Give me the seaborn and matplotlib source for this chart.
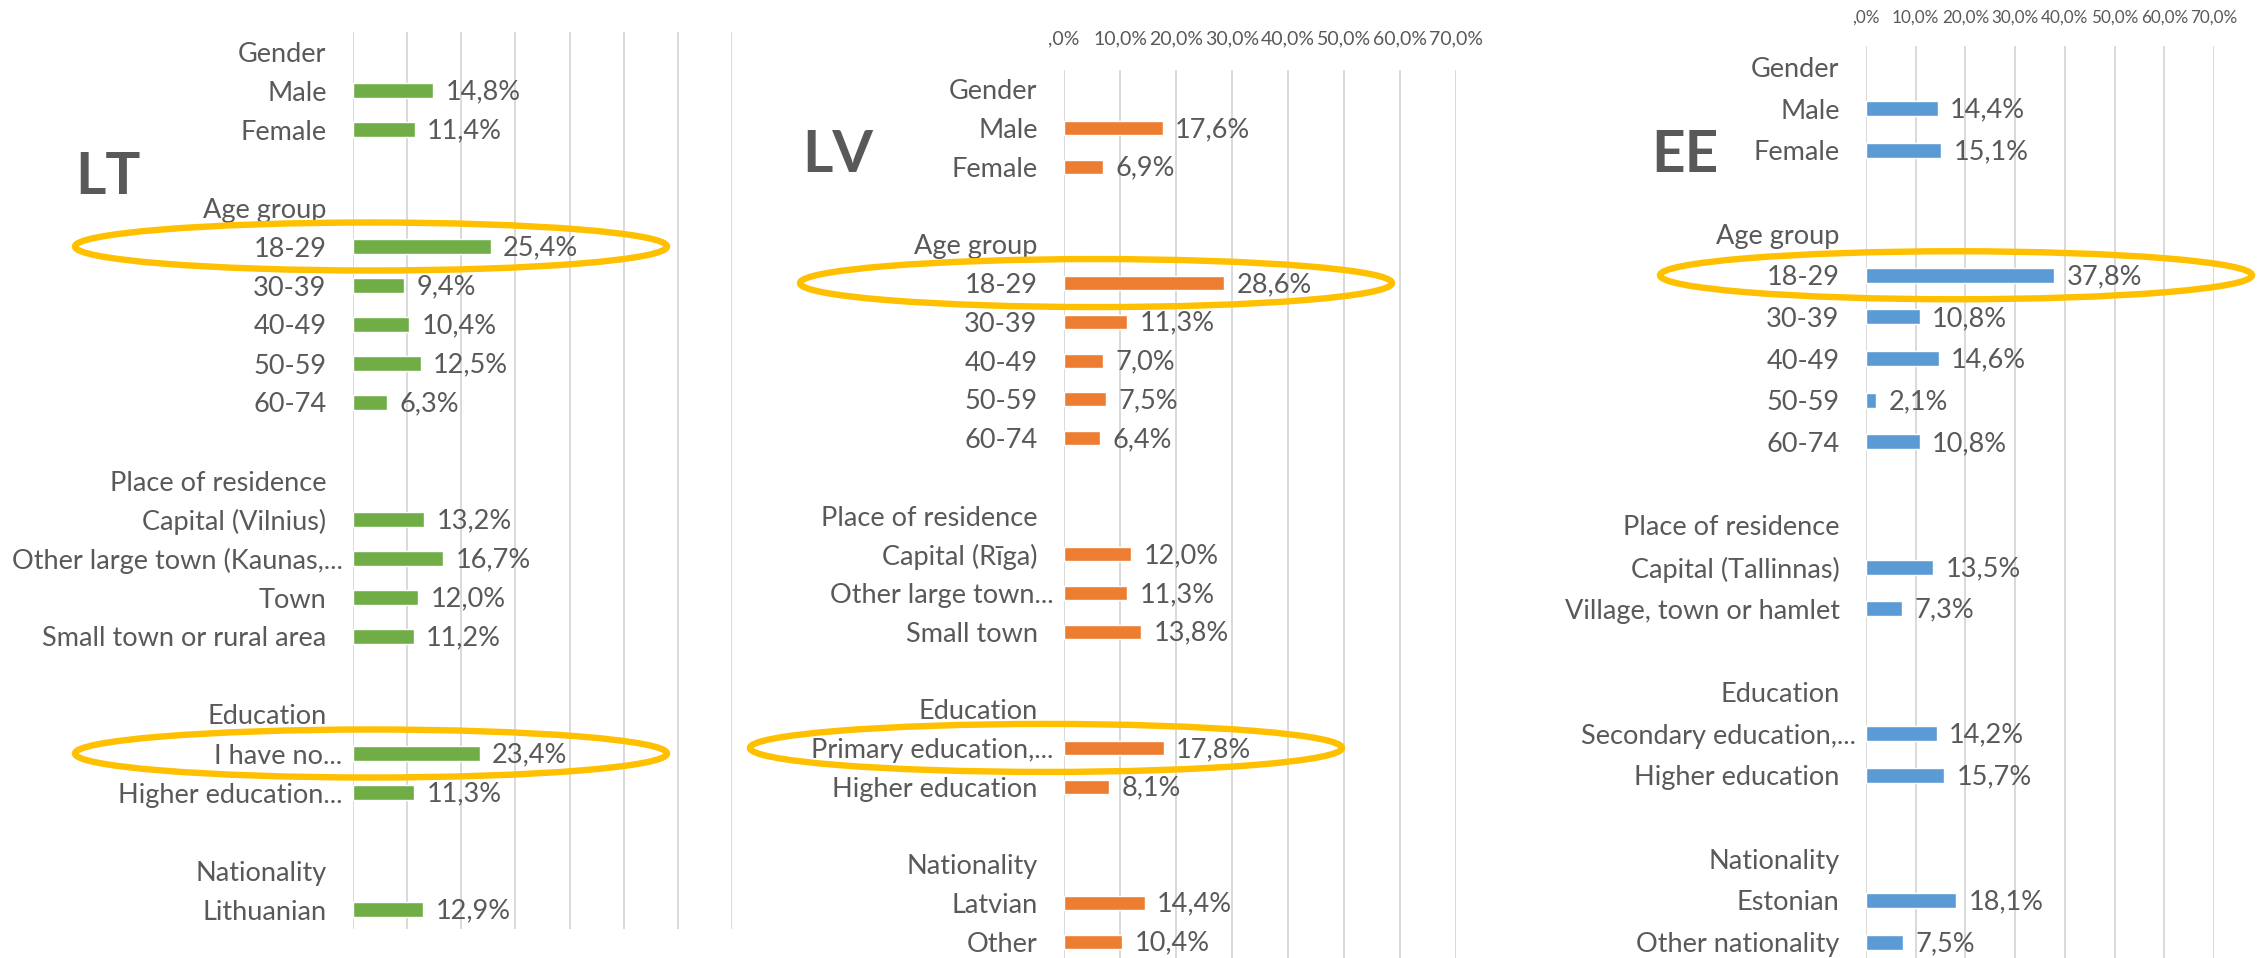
import numpy as np
import pandas as pd
import matplotlib
matplotlib.use('Agg')
import matplotlib.pyplot as plt
import matplotlib.transforms as mtransforms
from matplotlib.patches import Ellipse
import seaborn as sns

# ── Data ──────────────────────────────────────────────────────────────────────
LT_LABELS = ['Gender', 'Male', 'Female', ' ',
             'Age group', '18-29', '30-39', '40-49', '50-59', '60-74', '  ',
             'Place of residence', 'Capital (Vilnius)', 'Other large town (Kaunas,...',
             'Town', 'Small town or rural area', '   ',
             'Education', 'I have no...', 'Higher education...', '    ',
             'Nationality', 'Lithuanian']
LT_VALUES = [None, 14.8, 11.4, None,
             None, 25.4, 9.4, 10.4, 12.5, 6.3, None,
             None, 13.2, 16.7, 12.0, 11.2, None,
             None, 23.4, 11.3, None,
             None, 12.9]

LV_LABELS = ['Gender', 'Male', 'Female', ' ',
             'Age group', '18-29', '30-39', '40-49', '50-59', '60-74', '  ',
             'Place of residence', 'Capital (Rīga)', 'Other large town...', 'Small town', '   ',
             'Education', 'Primary education,...', 'Higher education', '    ',
             'Nationality', 'Latvian', 'Other']
LV_VALUES = [None, 17.6, 6.9, None,
             None, 28.6, 11.3, 7.0, 7.5, 6.4, None,
             None, 12.0, 11.3, 13.8, None,
             None, 17.8, 8.1, None,
             None, 14.4, 10.4]

EE_LABELS = ['Gender', 'Male', 'Female', ' ',
             'Age group', '18-29', '30-39', '40-49', '50-59', '60-74', '  ',
             'Place of residence', 'Capital (Tallinnas)', 'Village, town or hamlet', '   ',
             'Education', 'Secondary education,...', 'Higher education', '    ',
             'Nationality', 'Estonian', 'Other nationality']
EE_VALUES = [None, 14.4, 15.1, None,
             None, 37.8, 10.8, 14.6, 2.1, 10.8, None,
             None, 13.5, 7.3, None,
             None, 14.2, 15.7, None,
             None, 18.1, 7.5]

X_TICKS = [0, 10, 20, 30, 40, 50, 60, 70]

# ── Style ─────────────────────────────────────────────────────────────────────
W, H = 2267, 958
TXT = '#595959'
GRID = '#D9D9D9'
RING = '#FFC000'

sns.set_style('white')
plt.rcParams['font.family'] = ['Lato', 'DejaVu Sans']

fig = plt.figure(figsize=(W / 100, H / 100), dpi=100)


def fmt(v):
    s = f'{v:.1f}'.replace('.', ',')
    if s.startswith('0,'):
        s = s[1:]
    return s + '%'


def px_box(x0, x1, y_top, y_bot):
    return [x0 / W, 1 - y_bot / H, (x1 - x0) / W, (y_bot - y_top) / H]


# panel: labels, values, colour, axes box (px), big tag + position, show ticks, rings
panels = [
    dict(labels=LT_LABELS, values=LT_VALUES, color='#70AD47',
         box=px_box(353, 732, 32, 929), tag='LT', tag_xy=(75, 177),
         ticks=False, rings=[('18-29', 371), ('I have no...', 371)], tpad=16, tsize=14),
    dict(labels=LV_LABELS, values=LV_VALUES, color='#ED7D31',
         box=px_box(1064, 1456, 70, 961), tag='LV', tag_xy=(802, 155),
         ticks=True, rings=[('18-29', 1096), ('Primary education,...', 1046)],
         tpad=16, tsize=14),
    dict(labels=EE_LABELS, values=EE_VALUES, color='#5B9BD5',
         box=px_box(1866, 2214, 46, 963), tag='EE', tag_xy=(1651, 156),
         ticks=True, rings=[('18-29', 1956)], tpad=15, tsize=12.3),
]

for p in panels:
    ax = fig.add_axes(p['box'])
    df = pd.DataFrame({'label': p['labels'], 'value': p['values']}).dropna()
    sns.barplot(data=df, x='value', y='label', order=p['labels'], orient='h',
                color=p['color'], width=0.36, saturation=1, ax=ax)

    n = len(p['labels'])
    ax.set_xlim(0, 70)
    ax.set_ylim(n - 0.5, -0.5)
    ax.set_xticks(X_TICKS)
    ax.set_xticklabels([fmt(t) for t in X_TICKS])
    ax.xaxis.tick_top()
    ax.tick_params(axis='x', length=0, pad=p['tpad'], labelsize=p['tsize'], colors=TXT,
                   labeltop=p['ticks'], labelbottom=False)
    ax.tick_params(axis='y', length=0, pad=19, labelsize=19.5, colors=TXT)
    ax.set_xlabel('')
    ax.set_ylabel('')
    ax.grid(axis='x', color=GRID, lw=1.4)
    ax.grid(axis='y', visible=False)
    ax.set_axisbelow(True)
    sns.despine(ax=ax, left=True, bottom=True)

    # truncated labels sit a little closer to the axis, as in Excel
    shift = mtransforms.ScaledTranslation(16 / 100, 0, fig.dpi_scale_trans)
    for lbl in ax.get_yticklabels():
        if lbl.get_text().endswith('...'):
            lbl.set_transform(lbl.get_transform() + shift)

    # data labels
    for i, v in enumerate(p['values']):
        if v is None:
            continue
        ax.annotate(fmt(v), (v, i), xytext=(9, -1), textcoords='offset points',
                    va='center', ha='left', fontsize=19.5, color=TXT)

    # country tag
    fig.text(p['tag_xy'][0] / W, 1 - p['tag_xy'][1] / H, p['tag'], fontsize=42,
             fontweight='bold', color=TXT, ha='left', va='center')

    # highlight rings
    trans = mtransforms.blended_transform_factory(fig.transFigure, ax.transData)
    row_px = (p['box'][3] * H) / n
    for name, cx in p['rings']:
        idx = p['labels'].index(name)
        e = Ellipse((cx / W, idx), width=592 / W, height=48 / row_px,
                    transform=trans, fill=False, edgecolor=RING, lw=4.6,
                    clip_on=False, zorder=5)
        fig.add_artist(e)

fig.savefig('out.png', dpi=100)
